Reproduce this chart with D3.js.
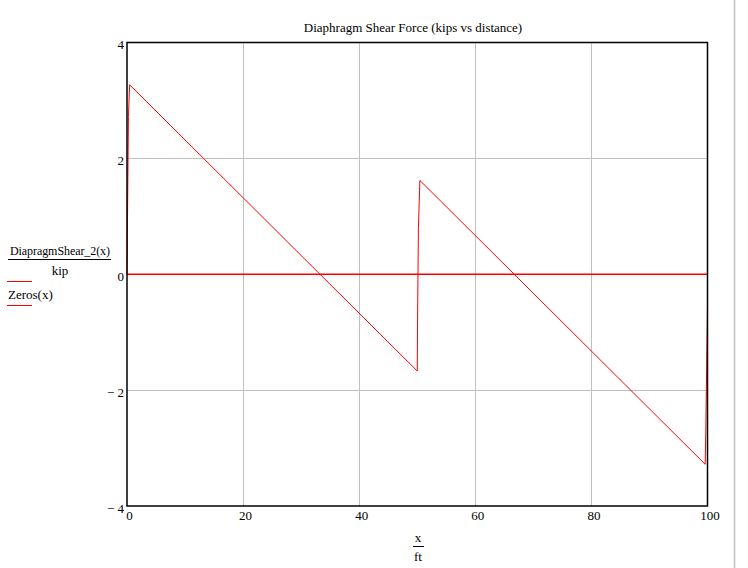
<!DOCTYPE html>
<html><head><meta charset="utf-8">
<script src="https://cdn.jsdelivr.net/npm/d3@7"></script>
<style>
html,body{margin:0;padding:0;background:#fff;}
text{font-family:"Liberation Serif","Times New Roman",serif;fill:#000;}
</style></head>
<body><svg id="c" width="748" height="568"></svg>
<script>
// ---- data ----
const shearX = [0, 0.05, 0.15, 0.25, 0.45, 50.0, 50.05, 50.2, 50.45, 99.6, 99.7, 99.85, 100];
const shearY = [0, 0.53, 1.65, 2.72, 3.27, -1.67, -0.84, 0.79, 1.62, -3.28, -2.74, -1.64, -0.55];
const zerosX = [0, 100];
const zerosY = [0, 0];
const xTicks = [0, 20, 40, 60, 80, 100];
const yTicks = [-4, -2, 0, 2, 4];
const titleText = "Diaphragm Shear Force (kips vs distance)";
const legendTop = "DiapragmShear_2(x)";
const legendUnit = "kip";
const legendZeros = "Zeros(x)";

const svg = d3.select("#c");
const x = d3.scaleLinear().domain([0, 100]).range([127, 707.5]);
const y = d3.scaleLinear().domain([-4, 4]).range([506, 42.5]);

// outer frame line on the right
svg.append("line").attr("x1", 734.5).attr("x2", 734.5).attr("y1", 0).attr("y2", 568)
  .attr("stroke", "#c0c0c0").attr("stroke-width", 1.5);

// grid
const g = svg.append("g");
g.selectAll(".gx").data(xTicks.filter(d => d > 0 && d < 100)).enter().append("line")
  .attr("x1", d => Math.round(x(d)) + 0.5).attr("x2", d => Math.round(x(d)) + 0.5)
  .attr("y1", y(4)).attr("y2", y(-4)).attr("stroke", "#c0c0c0").attr("stroke-width", 1);
g.selectAll(".gy").data(yTicks.filter(d => d > -4 && d < 4)).enter().append("line")
  .attr("y1", d => Math.round(y(d)) + 0.5).attr("y2", d => Math.round(y(d)) + 0.5)
  .attr("x1", x(0)).attr("x2", x(100)).attr("stroke", "#c0c0c0").attr("stroke-width", 1);

// series
const line = d3.line().x(d => x(d[0])).y(d => y(d[1]));
const shear = shearX.map((v, i) => [v, shearY[i]]);
const zeros = zerosX.map((v, i) => [v, zerosY[i]]);
svg.append("path").datum(shear).attr("d", line).attr("fill", "none")
  .attr("stroke", "#ff0000").attr("stroke-width", 1);
svg.append("path").datum(zeros).attr("d", line).attr("fill", "none")
  .attr("stroke", "#ff0000").attr("stroke-width", 1.5);

// plot frame
svg.append("rect").attr("x", x(0)).attr("y", y(4)).attr("width", x(100) - x(0)).attr("height", y(-4) - y(4))
  .attr("fill", "none").attr("stroke", "#000").attr("stroke-width", 1.5);

// axes labels via d3 axes (hide domain/ticks, keep text)
const fmt = d => d < 0 ? "\u2212 " + Math.abs(d) : String(d);
const ax = svg.append("g").attr("transform", `translate(2,${y(-4)})`)
  .call(d3.axisBottom(x).tickValues(xTicks).tickFormat(fmt).tickSize(0).tickPadding(5));
const ay = svg.append("g").attr("transform", `translate(${x(0)},2)`)
  .call(d3.axisLeft(y).tickValues(yTicks).tickFormat(fmt).tickSize(0).tickPadding(3));
[ax, ay].forEach(a => {
  a.select(".domain").remove();
  a.selectAll("text").attr("font-family", "Liberation Serif, Times New Roman, serif")
    .attr("font-size", 13).attr("fill", "#000");
});

// title
svg.append("text").attr("x", 413).attr("y", 32).attr("text-anchor", "middle")
  .attr("font-size", 13).text(titleText);

// x axis label as fraction
svg.append("text").attr("x", 418).attr("y", 542).attr("text-anchor", "middle").attr("font-size", 13).text("x");
svg.append("line").attr("x1", 413).attr("x2", 424).attr("y1", 546.5).attr("y2", 546.5).attr("stroke", "#000");
svg.append("text").attr("x", 418).attr("y", 561).attr("text-anchor", "middle").attr("font-size", 13).text("ft");

// y legend
svg.append("text").attr("x", 10).attr("y", 254.5).attr("font-size", 12).attr("textLength", 100).text(legendTop);
svg.append("line").attr("x1", 8).attr("x2", 111).attr("y1", 259.5).attr("y2", 259.5).attr("stroke", "#000");
svg.append("text").attr("x", 60).attr("y", 275).attr("text-anchor", "middle").attr("font-size", 13).text(legendUnit);
svg.append("line").attr("x1", 7).attr("x2", 32).attr("y1", 281.5).attr("y2", 281.5).attr("stroke", "#ff0000").attr("stroke-width", 1);
svg.append("text").attr("x", 8).attr("y", 299).attr("font-size", 13).text(legendZeros);
svg.append("line").attr("x1", 7).attr("x2", 32).attr("y1", 305.5).attr("y2", 305.5).attr("stroke", "#ff0000").attr("stroke-width", 1);
</script></body></html>
